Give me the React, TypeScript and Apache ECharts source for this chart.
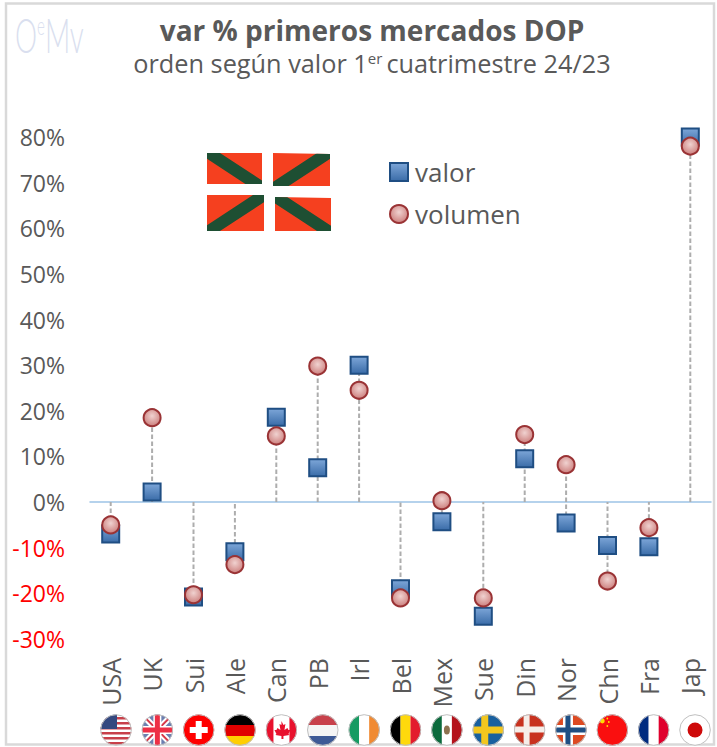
import React, { useEffect, useRef } from "react";
import * as echarts from "echarts";

const categories = ["USA", "UK", "Sui", "Ale", "Can", "PB", "Irl", "Bel", "Mex", "Sue", "Din", "Nor", "Chn", "Fra", "Jap"];
const valor = [-7, 2.2, -20.8, -10.9, 18.6, 7.5, 30, -19, -4.3, -25, 9.5, -4.6, -9.5, -9.8, 80];
const volumen = [-5, 18.5, -20.3, -13.7, 14.5, 29.8, 24.5, -21, 0.3, -21, 14.8, 8.2, -17.3, -5.6, 78];
const yTicks = { min: -30, max: 80, interval: 10 };

const flagBodies: string[] = [
  // USA
  `<rect width="32" height="32" fill="#fff"/>` +
    [3, 8, 13, 18, 23, 28].map((y) => `<rect y="${y}" width="32" height="2.5" fill="#C8404A"/>`).join("") +
    `<rect width="17" height="15" fill="#34487F"/>`,
  // UK
  `<rect width="32" height="32" fill="#6D7FB0"/><path d="M0 0L32 32M32 0L0 32" stroke="#fff" stroke-width="6"/><path d="M0 0L32 32M32 0L0 32" stroke="#D8394A" stroke-width="2"/><path d="M16 0V32M0 16H32" stroke="#fff" stroke-width="8"/><path d="M16 0V32M0 16H32" stroke="#EE2F45" stroke-width="5"/>`,
  // Sui
  `<rect width="32" height="32" fill="#FF0000"/><path d="M16 7V25M7 16H25" stroke="#fff" stroke-width="6"/>`,
  // Ale
  `<rect width="32" height="11" fill="#000"/><rect y="11" width="32" height="11" fill="#E00000"/><rect y="22" width="32" height="10" fill="#FFCE00"/>`,
  // Can
  `<rect width="32" height="32" fill="#fff"/><rect width="8" height="32" fill="#E8112D"/><rect x="24" width="8" height="32" fill="#E8112D"/><path d="M16 7l2 4 2-1-1 6 3-2 1 2 2 0-2 4 1 1-6 1v3h-2v-3l-6-1 1-1-2-4 2 0 1-2 3 2-1-6 2 1z" fill="#E8112D"/>`,
  // PB
  `<rect width="32" height="11" fill="#C8414B"/><rect y="11" width="32" height="11" fill="#F5F5F5"/><rect y="22" width="32" height="10" fill="#3E5A96"/>`,
  // Irl
  `<rect width="11" height="32" fill="#169B62"/><rect x="11" width="10" height="32" fill="#fff"/><rect x="21" width="11" height="32" fill="#F08A32"/>`,
  // Bel
  `<rect width="11" height="32" fill="#000"/><rect x="11" width="10" height="32" fill="#FFD90C"/><rect x="21" width="11" height="32" fill="#E31B2D"/>`,
  // Mex
  `<rect width="11" height="32" fill="#0B6A3C"/><rect x="11" width="10" height="32" fill="#fff"/><rect x="21" width="11" height="32" fill="#B4121B"/><ellipse cx="16" cy="16" rx="3" ry="4.5" fill="#8D7250"/>`,
  // Sue
  `<rect width="32" height="32" fill="#19609F"/><rect y="12.5" width="32" height="7" fill="#F2C61E"/><rect x="9" width="7" height="32" fill="#F2C61E"/>`,
  // Din
  `<rect width="32" height="32" fill="#C8321F"/><rect y="12.5" width="32" height="6" fill="#F6EDE8"/><rect x="10" width="6" height="32" fill="#F6EDE8"/>`,
  // Nor
  `<rect width="32" height="32" fill="#DD4A22"/><rect y="11" width="32" height="10" fill="#fff"/><rect x="8" width="10" height="32" fill="#fff"/><rect y="13.5" width="32" height="5" fill="#1F4F83"/><rect x="10.5" width="5" height="32" fill="#1F4F83"/>`,
  // Chn
  `<rect width="32" height="32" fill="#FA0F0F"/><circle cx="6" cy="7" r="2.4" fill="#FFDE00"/><circle cx="11" cy="4.5" r=".9" fill="#FFDE00"/><circle cx="12.5" cy="8" r=".9" fill="#FFDE00"/><circle cx="11" cy="12" r=".9" fill="#FFDE00"/>`,
  // Fra
  `<rect width="11" height="32" fill="#002B7F"/><rect x="11" width="10" height="32" fill="#fff"/><rect x="21" width="11" height="32" fill="#E0002D"/>`,
  // Jap
  `<rect width="32" height="32" fill="#fff"/><circle cx="16" cy="16" r="7.5" fill="#CE0A0A"/>`,
];

const flagUri = (body: string, i: number) =>
  "data:image/svg+xml;charset=utf-8," +
  encodeURIComponent(
    `<svg xmlns="http://www.w3.org/2000/svg" width="64" height="64" viewBox="0 0 32 32"><defs><clipPath id="c${i}"><circle cx="16" cy="16" r="15.5"/></clipPath></defs><g clip-path="url(#c${i})">${body}</g><circle cx="16" cy="16" r="15.3" fill="none" stroke="#BFBFBF" stroke-width="1"/></svg>`
  );

const basqueUri =
  "data:image/svg+xml;charset=utf-8," +
  encodeURIComponent(
    `<svg xmlns="http://www.w3.org/2000/svg" width="250" height="164" viewBox="0 0 125 82"><defs><clipPath id="q"><path d="M1 2H56V33H1ZM67 2L124 3V35H67ZM1 44H58V80H1ZM69 46L125 47V80H69Z"/></clipPath></defs><rect width="125" height="82" fill="#FFFFFF"/><path d="M1 2H56V33H1ZM67 2L124 3V35H67ZM1 44H58V80H1ZM69 46L125 47V80H69Z" fill="#F5401F"/><g clip-path="url(#q)"><path d="M0 0L125 82M125 0L0 82" stroke="#1E4F33" stroke-width="12"/></g></svg>`
  );

const squareFill = new echarts.graphic.LinearGradient(0, 0, 0, 1, [
  { offset: 0, color: "#7DA6D8" },
  { offset: 1, color: "#3A6CA8" },
]);
const circleFill = new echarts.graphic.RadialGradient(0.5, 0.4, 0.6, [
  { offset: 0, color: "#F0D2D0" },
  { offset: 1, color: "#CC7F7D" },
]);

export default function App() {
  const ref = useRef<HTMLDivElement>(null);
  useEffect(() => {
    const chart = echarts.init(ref.current!, undefined, { renderer: "svg" });
    const font = "'Open Sans', sans-serif";
    const grey = "#595959";
    const stems = categories.map((_, i) => [
      i,
      Math.min(0, valor[i], volumen[i]),
      Math.max(0, valor[i], volumen[i]),
    ]);
    chart.setOption({
      animation: false,
      backgroundColor: "#fff",
      textStyle: { fontFamily: font },
      title: {
        text: "var % primeros mercados DOP",
        subtext: "orden según valor 1{sup|er}cuatrimestre 24/23",
        left: 367,
        textAlign: "center",
        top: 11,
        itemGap: 6,
        textStyle: { fontFamily: font, fontSize: 28, fontWeight: "bold", color: grey },
        subtextStyle: {
          fontFamily: font,
          fontSize: 25.3,
          color: grey,
          rich: {
            sup: { fontFamily: font, fontSize: 15, color: grey, verticalAlign: "top", padding: [0, 4, 9, 0] },
          },
        },
      },
      grid: { left: 90, right: 6, top: 137, bottom: 108, containLabel: false },
      legend: {
        data: ["valor", "volumen"],
        orient: "vertical",
        left: 384,
        top: 150,
        itemWidth: 18,
        itemHeight: 18,
        itemGap: 8,
        textStyle: { fontFamily: font, fontSize: 26, color: grey, padding: [0, 0, 0, 2], lineHeight: 34 },
      },
      xAxis: [
        {
          type: "category",
          data: categories,
          axisLine: { show: true, onZero: true, lineStyle: { color: "#9DC3E6", width: 1.5 } },
          axisTick: { show: false },
          axisLabel: { show: false },
        },
        {
          type: "category",
          position: "bottom",
          data: categories,
          axisLine: { show: false, onZero: false },
          axisTick: { show: false },
          axisLabel: { rotate: 90, margin: 19, fontFamily: font, fontSize: 25, color: grey, interval: 0 },
        },
      ],
      yAxis: {
        type: "value",
        min: yTicks.min,
        max: yTicks.max,
        interval: yTicks.interval,
        axisLine: { show: false },
        axisTick: { show: false },
        splitLine: { show: false },
        axisLabel: {
          margin: 25,
          fontFamily: font,
          fontSize: 23,
          formatter: (v: number) => `${v}%`,
          color: (v: any) => (Number(v) < 0 ? "#FF0000" : grey),
        },
      },
      series: [
        {
          type: "custom",
          name: "stems",
          silent: true,
          clip: false,
          z: 1,
          data: stems,
          encode: { x: 0, y: [1, 2] },
          renderItem: (_: any, api: any) => {
            const a = api.coord([api.value(0), api.value(1)]);
            const b = api.coord([api.value(0), api.value(2)]);
            return {
              type: "line",
              shape: { x1: a[0], y1: a[1], x2: b[0], y2: b[1] },
              style: { stroke: "#ADADAD", lineWidth: 2, lineDash: [4.5, 2.5], fill: "none" },
            };
          },
        },
        {
          type: "scatter",
          name: "valor",
          symbol: "rect",
          symbolSize: 17,
          clip: false,
          z: 3,
          itemStyle: { color: squareFill, borderColor: "#1F4E83", borderWidth: 2, opacity: 1 },
          data: valor,
        },
        {
          type: "scatter",
          name: "volumen",
          symbol: "circle",
          symbolSize: 17,
          clip: false,
          z: 4,
          itemStyle: { color: circleFill, borderColor: "#9A3335", borderWidth: 2, opacity: 1 },
          data: volumen,
        },
      ],
      graphic: [
        {
          type: "rect",
          silent: true,
          z: -1,
          shape: { x: 6, y: 3.5, width: 708, height: 741 },
          style: { fill: "none", stroke: "#D9D9D9", lineWidth: 2.5 },
        },
        {
          type: "text",
          x: 15,
          y: 10,
          scaleX: 0.58,
          style: {
            text: "{o|O}{e|e}{o|Mv}",
            fill: "#DADFEF",
            rich: {
              o: { font: "300 48px Lato", fill: "#DADFEF" },
              e: { font: "300 26px Lato", fill: "#DADFEF", verticalAlign: "top", padding: [2, 0, 0, 0] },
            },
          },
        },
        { type: "image", x: 206, y: 151, z: 0, style: { image: basqueUri, width: 125, height: 82 } },
        ...flagBodies.map((b, i) => ({
          type: "image",
          x: 116 + 41.36 * i - 16,
          y: 714,
          style: { image: flagUri(b, i), width: 32, height: 32 },
        })),
      ],
    });
    return () => chart.dispose();
  }, []);
  return <div ref={ref} style={{ position: "fixed", left: 0, top: 0, width: 717, height: 747 }} />;
}
